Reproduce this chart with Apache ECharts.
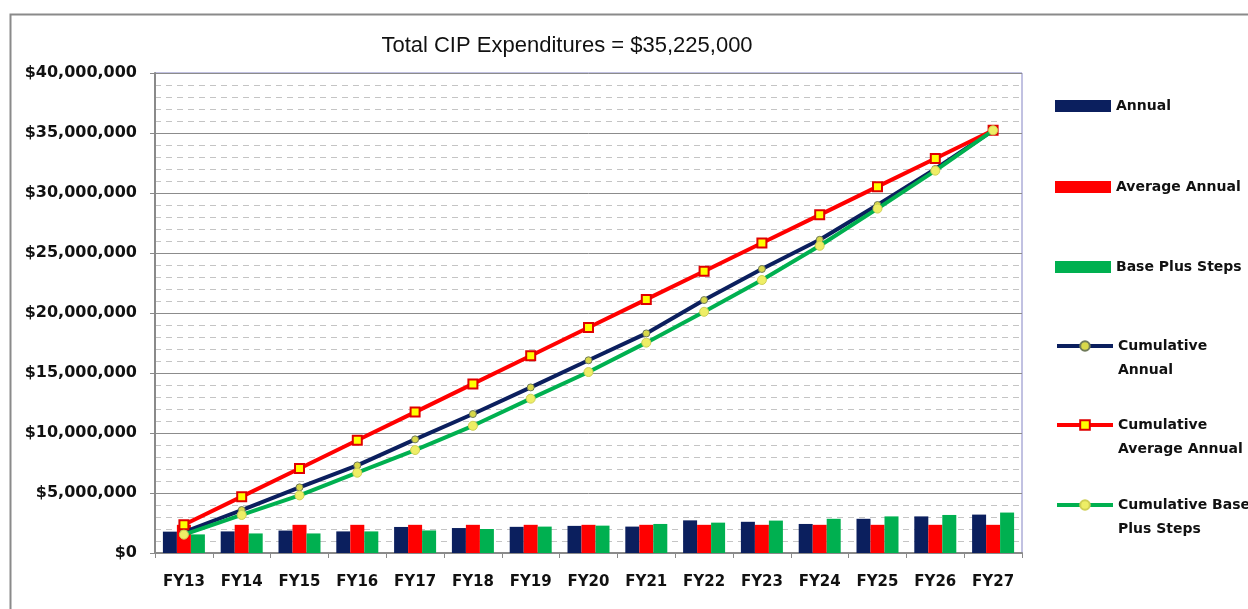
<!DOCTYPE html>
<html>
<head>
<meta charset="utf-8">
<title>Total CIP Expenditures</title>
<script src="https://cdn.jsdelivr.net/npm/echarts@6/dist/echarts.min.js"></script>
<style>
  html, body { margin: 0; padding: 0; background: #fff; }
  #myChart { width: 1248px; height: 609px; }
</style>
</head>
<body>
<div id="myChart"></div>
<script>
// fiscal years
const categories = ["FY13", "FY14", "FY15", "FY16", "FY17", "FY18", "FY19", "FY20",
  "FY21", "FY22", "FY23", "FY24", "FY25", "FY26", "FY27"];

// yearly bars ($)
const annual = [1780000, 1800000, 1870000, 1800000, 2170000, 2080000, 2180000, 2260000,
  2200000, 2720000, 2600000, 2420000, 2850000, 3050000, 3200000];
const averageAnnual = [2348333, 2348333, 2348333, 2348333, 2348333, 2348333, 2348333, 2348333,
  2348333, 2348333, 2348333, 2348333, 2348333, 2348333, 2348333];
const basePlusSteps = [1550000, 1630000, 1630000, 1800000, 1880000, 2000000, 2200000, 2280000,
  2420000, 2530000, 2700000, 2850000, 3050000, 3170000, 3370000];

// running totals ($)
const cumAnnual = [1750000, 3580000, 5470000, 7300000, 9470000, 11580000, 13800000, 16060000,
  18300000, 21080000, 23670000, 26100000, 29000000, 32000000, 35225000];
const cumAverage = [2348000, 4697000, 7045000, 9393000, 11742000, 14090000, 16438000, 18787000,
  21135000, 23483000, 25832000, 28180000, 30528000, 32877000, 35225000];
const cumBase = [1530000, 3170000, 4800000, 6690000, 8580000, 10600000, 12860000, 15080000,
  17530000, 20100000, 22750000, 25600000, 28700000, 31860000, 35225000];

// y axis
const yMin = 0;
const yMax = 40000000;
const yStep = 5000000;

const NAVY = "#0b1f5e";
const RED = "#ff0000";
const GREEN = "#00b050";
const FONT = "DejaVu Sans";

const money = (v) => "$" + Number(v).toLocaleString("en-US");

// two-line legend names, first line lines up with the icon
const legendLines = {
  "Cumulative Annual": ["Cumulative", "Annual"],
  "Cumulative Average Annual": ["Cumulative", "Average Annual"],
  "Cumulative Base Plus Steps": ["Cumulative Base", "Plus Steps"],
};

const legendAt = (name, top, icon) => {
  const twoLines = !!legendLines[name];
  return {
    data: [name],
    orient: "vertical",
    left: 1055,
    top: top,
    padding: 0,
    itemWidth: 56,
    itemHeight: 12,
    icon: icon,
    selectedMode: false,
    lineStyle: { width: 4 },
    formatter: (n) => {
      if (!legendLines[n]) return "{t|" + n + "}";
      return legendLines[n].map((s) => "{t|" + s + "}").join("\n");
    },
    textStyle: {
      padding: twoLines ? [24, 0, 0, 0] : 0,
      rich: {
        t: {
          fontFamily: FONT,
          fontWeight: "bold",
          fontSize: 14,
          color: "#111",
          lineHeight: 24,
        },
      },
    },
  };
};

const myChart = echarts.init(document.getElementById("myChart"), null, { renderer: "canvas" });

myChart.setOption({
  backgroundColor: "#fff",
  animation: false,
  title: {
    text: "Total CIP Expenditures = $35,225,000",
    left: 562,
    textAlign: "center",
    top: 30,
    textStyle: {
      fontFamily: "Liberation Sans",
      fontWeight: "normal",
      fontSize: 22,
      color: "#111",
    },
  },
  graphic: [
    {
      type: "rect",
      left: 8,
      top: 12,
      shape: { x: 0, y: 0, width: 1300, height: 620 },
      style: { fill: "none", stroke: "#8a8a8a", lineWidth: 2 },
      silent: true,
      z: -1,
    },
  ],
  legend: [
    legendAt("Annual", 99, "rect"),
    legendAt("Average Annual", 180, "rect"),
    legendAt("Base Plus Steps", 260, "rect"),
    legendAt("Cumulative Annual", 339, null),
    legendAt("Cumulative Average Annual", 418, null),
    legendAt("Cumulative Base Plus Steps", 498, null),
  ],
  grid: {
    left: 155,
    right: 226,
    top: 73,
    bottom: 56,
    show: true,
    borderColor: "#8484c4",
    borderWidth: 1,
    backgroundColor: "transparent",
  },
  xAxis: {
    type: "category",
    data: categories,
    boundaryGap: true,
    axisLine: { show: true, lineStyle: { color: "#8a8a8a", width: 2 } },
    axisTick: { show: true, length: 5, lineStyle: { color: "#8a8a8a", width: 1 } },
    axisLabel: {
      interval: 0,
      margin: 22,
      fontFamily: FONT,
      fontWeight: "bold",
      fontSize: 15,
      color: "#111",
    },
    splitLine: { show: false },
  },
  yAxis: {
    type: "value",
    min: yMin,
    max: yMax,
    interval: yStep,
    axisLine: { show: true, lineStyle: { color: "#8a8a8a", width: 2 } },
    axisTick: { show: true, length: 5, lineStyle: { color: "#8a8a8a" } },
    axisLabel: {
      margin: 18,
      fontFamily: FONT,
      fontWeight: "bold",
      fontSize: 16,
      color: "#111",
      formatter: money,
    },
    splitLine: { show: true, lineStyle: { color: "#8c8c8c", width: 1 } },
    minorTick: { show: false, splitNumber: 5 },
    minorSplitLine: {
      show: true,
      lineStyle: { color: "#c4c4c4", width: 1, type: [6, 5] },
    },
  },
  series: [
    {
      name: "Annual",
      type: "bar",
      data: annual,
      barWidth: 14,
      barGap: "0%",
      itemStyle: { color: NAVY },
      z: 2,
    },
    {
      name: "Average Annual",
      type: "bar",
      data: averageAnnual,
      barWidth: 14,
      barGap: "0%",
      itemStyle: { color: RED },
      z: 2,
    },
    {
      name: "Base Plus Steps",
      type: "bar",
      data: basePlusSteps,
      barWidth: 14,
      barGap: "0%",
      itemStyle: { color: GREEN },
      z: 2,
    },
    {
      name: "Cumulative Annual",
      type: "line",
      data: cumAnnual,
      symbol: "circle",
      symbolSize: 7,
      showAllSymbol: true,
      lineStyle: { color: NAVY, width: 4 },
      itemStyle: { color: "#d8d84a", borderColor: "#6f7a5a", borderWidth: 1 },
      z: 4,
    },
    {
      name: "Cumulative Average Annual",
      type: "line",
      data: cumAverage,
      symbol: "rect",
      symbolSize: 9,
      showAllSymbol: true,
      lineStyle: { color: RED, width: 4 },
      itemStyle: { color: "#ffff00", borderColor: "#e00000", borderWidth: 2 },
      z: 4,
    },
    {
      name: "Cumulative Base Plus Steps",
      type: "line",
      data: cumBase,
      symbol: "circle",
      symbolSize: 9,
      showAllSymbol: true,
      lineStyle: { color: GREEN, width: 4 },
      itemStyle: { color: "#eeee66", borderColor: "#cfcf55", borderWidth: 1 },
      z: 5,
    },
  ],
});
</script>
</body>
</html>
